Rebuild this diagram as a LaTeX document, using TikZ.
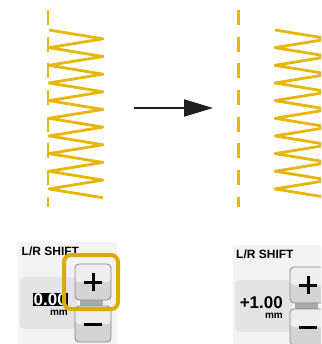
\documentclass[tikz,border=0pt]{standalone}
\usepackage{fontspec}
\setmainfont{Liberation Sans}
\usepackage{tikz}
\usetikzlibrary{arrows.meta}
\definecolor{sewyellow}{RGB}{230,182,10}
\definecolor{frameyellow}{RGB}{221,171,0}
\definecolor{panelgray}{RGB}{243,243,243}
\definecolor{valgray}{RGB}{228,228,228}
\definecolor{btnlight}{RGB}{238,238,238}
\definecolor{btndark}{RGB}{212,212,212}
\definecolor{btnedge}{RGB}{135,135,135}
\definecolor{linkgray}{RGB}{168,168,168}
\definecolor{arrblack}{RGB}{35,31,32}

\begin{document}
\begin{tikzpicture}[
      x=1pt, y=-1pt,
      every node/.style={inner sep=0pt, font=\bfseries},
      stitch/.style={draw=sewyellow, line width=2.8pt, line join=round},
      center line/.style={draw=sewyellow, line width=2.8pt, dash pattern=on 15pt off 11.67pt},
      lbl/.style={font=\fontsize{12}{12}\selectfont\bfseries, anchor=base west},
      val/.style={font=\fontsize{17}{17}\selectfont\bfseries, anchor=base east},
      unit/.style={font=\fontsize{10}{10}\selectfont\bfseries, anchor=base east},
      valbox/.style={fill=valgray, rounded corners=5pt, minimum width=57pt, minimum height=52pt},
      btn/.style={draw=btnedge, line width=0.8pt, rounded corners=4pt, fill=btndark, minimum width=36pt, minimum height=36pt},
      plusbtn/.style={btn, path picture={
        \fill[btnlight] (path picture bounding box.north west) rectangle (path picture bounding box.east);
        \draw[black, line width=3pt] ([xshift=-9pt]path picture bounding box.center) -- ([xshift=9pt]path picture bounding box.center);
        \draw[black, line width=3pt] ([yshift=-9pt]path picture bounding box.center) -- ([yshift=9pt]path picture bounding box.center);}},
      minusbtn/.style={btn, path picture={
        \fill[btnlight] (path picture bounding box.north west) rectangle (path picture bounding box.east);
        \draw[black, line width=3pt] ([xshift=-9pt]path picture bounding box.center) -- ([xshift=9pt]path picture bounding box.center);}},
      hilite/.style={draw=frameyellow, line width=4pt, rounded corners=7pt, minimum width=54pt, minimum height=54pt},
      arr/.style={-{Triangle[length=29pt, width=17pt]}, line width=2pt, draw=arrblack},
  ]
    \useasboundingbox (0,0) rectangle (321,344);
    \clip (0,0) rectangle (321,344);

    % stitches before and after
    \draw[center line] (48,10) -- (48,207);
    \draw[stitch] (49,30) \foreach \i in {1,...,19} {-- ({ifthenelse(isodd(\i),103,49)},{30+8.83*\i})};
    \draw[center line] (238.7,10) -- (238.7,207);
    \draw[stitch] (275,30) \foreach \i in {1,...,19} {-- ({ifthenelse(isodd(\i),329,275)},{30+8.83*\i})};

    \coordinate (from) at (134,108);
    \coordinate (to) at (213,108);
    \draw[arr] (from) -- (to);

    % left panel
    \fill[panelgray] (18,242) rectangle (117,350);
    \node[lbl] (shiftL) at (21.5,255) {L/R SHIFT};
    \node[valbox] (boxL) at (48.5,303) {};
    \node[val, fill=black, text=white, inner xsep=1pt, inner ysep=0.4pt] (valL) at (68,305) {0.00};
    \node[unit] (mmL) at (68,315) {mm};
    \fill[linkgray] (80,299) rectangle (103,306);
    \node[minusbtn] (minusL) at (93,324) {};
    \node[plusbtn] (plusL) at (93,282) {};
    \node[hilite] (hiL) at (91,282) {};

    % right panel
    \fill[panelgray] (233,245) rectangle (335,350);
    \node[lbl] (shiftR) at (236,258) {L/R SHIFT};
    \node[valbox] (boxR) at (263.5,306) {};
    \node[val] (valR) at (283,308) {+1.00};
    \node[unit] (mmR) at (283,318) {mm};
    \fill[linkgray] (295,302) rectangle (318,309);
    \node[minusbtn] (minusR) at (308,327) {};
    \node[plusbtn] (plusR) at (308,285) {};
\end{tikzpicture}
\end{document}
